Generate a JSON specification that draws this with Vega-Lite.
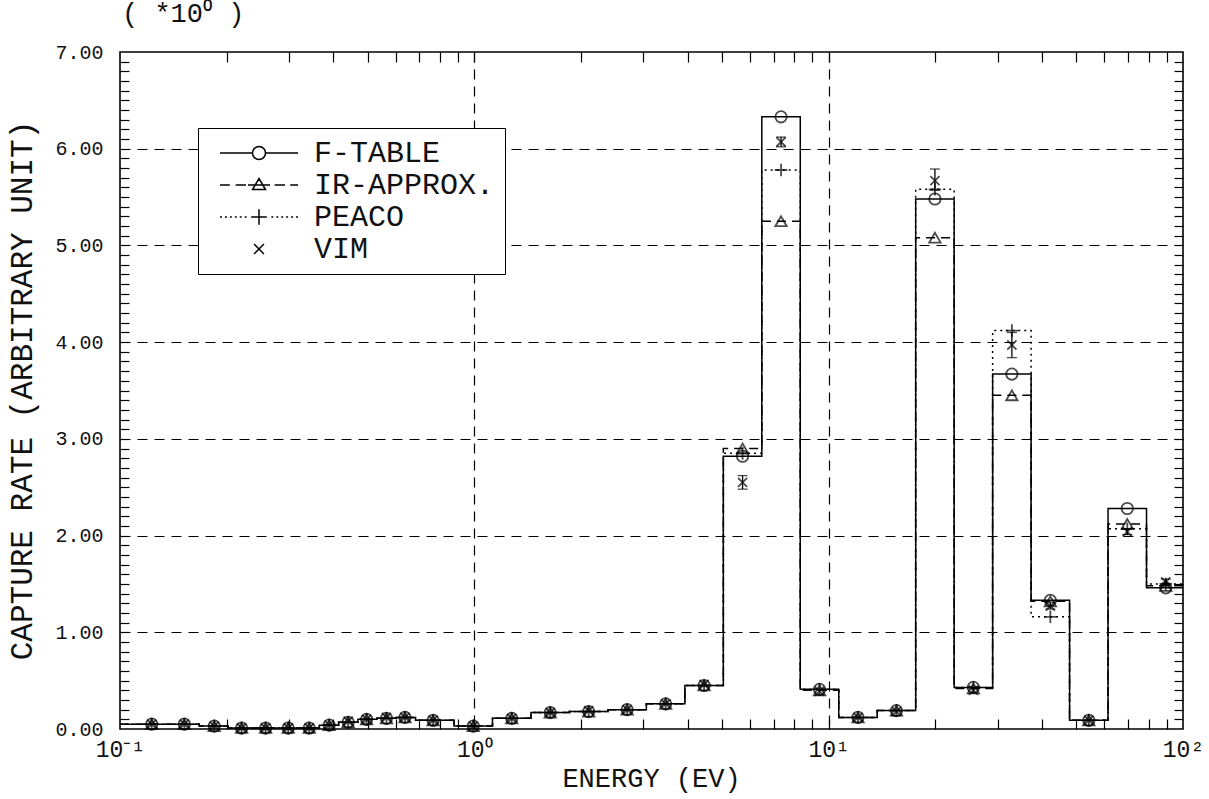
{
  "$schema": "https://vega.github.io/schema/vega-lite/v6.json",
  "width": 1063,
  "height": 677,
  "autosize": {"type": "none"},
  "padding": {"left": 120, "top": 52, "right": 26, "bottom": 70},
  "background": "white",
  "title": {
    "text": "( *10⁰ )",
    "anchor": "start",
    "frame": "group",
    "font": "Liberation Mono",
    "fontSize": 27,
    "fontWeight": "normal",
    "color": "#111",
    "offset": 14,
    "dx": 2
  },
  "config": {
    "view": {"stroke": "black", "strokeWidth": 1.6},
    "axis": {
      "labelFont": "Liberation Mono",
      "titleFont": "Liberation Mono",
      "labelColor": "#111",
      "titleColor": "#111",
      "titleFontWeight": "normal",
      "tickColor": "black",
      "tickWidth": 1.2,
      "labelFlush": false,
      "labelOverlap": false,
      "gridColor": "black",
      "gridDash": [10, 7],
      "gridWidth": 1.2
    }
  },
  "datasets": {
    "bins": [
      {"bin": 1, "lo": 0.1, "hi": 0.1366, "mid": 0.1229},
      {"bin": 2, "lo": 0.1366, "hi": 0.1674, "mid": 0.1519},
      {"bin": 3, "lo": 0.1674, "hi": 0.2017, "mid": 0.1845},
      {"bin": 4, "lo": 0.2017, "hi": 0.2383, "mid": 0.2204},
      {"bin": 5, "lo": 0.2383, "hi": 0.28, "mid": 0.2576},
      {"bin": 6, "lo": 0.28, "hi": 0.3224, "mid": 0.2984},
      {"bin": 7, "lo": 0.3224, "hi": 0.3653, "mid": 0.342},
      {"bin": 8, "lo": 0.3653, "hi": 0.414, "mid": 0.3894},
      {"bin": 9, "lo": 0.414, "hi": 0.4691, "mid": 0.4406},
      {"bin": 10, "lo": 0.4691, "hi": 0.5316, "mid": 0.4966},
      {"bin": 11, "lo": 0.5316, "hi": 0.6024, "mid": 0.565},
      {"bin": 12, "lo": 0.6024, "hi": 0.6826, "mid": 0.637},
      {"bin": 13, "lo": 0.6826, "hi": 0.8764, "mid": 0.765},
      {"bin": 14, "lo": 0.8764, "hi": 1.1254, "mid": 0.993},
      {"bin": 15, "lo": 1.1254, "hi": 1.445, "mid": 1.2752},
      {"bin": 16, "lo": 1.445, "hi": 1.8554, "mid": 1.6374},
      {"bin": 17, "lo": 1.8554, "hi": 2.3824, "mid": 2.1025},
      {"bin": 18, "lo": 2.3824, "hi": 3.059, "mid": 2.6996},
      {"bin": 19, "lo": 3.059, "hi": 3.9279, "mid": 3.4663},
      {"bin": 20, "lo": 3.9279, "hi": 5.0435, "mid": 4.4509},
      {"bin": 21, "lo": 5.0435, "hi": 6.476, "mid": 5.715},
      {"bin": 22, "lo": 6.476, "hi": 8.3153, "mid": 7.3383},
      {"bin": 23, "lo": 8.3153, "hi": 10.677, "mid": 9.4225},
      {"bin": 24, "lo": 10.677, "hi": 13.71, "mid": 12.099},
      {"bin": 25, "lo": 13.71, "hi": 17.603, "mid": 15.535},
      {"bin": 26, "lo": 17.603, "hi": 22.603, "mid": 19.947},
      {"bin": 27, "lo": 22.603, "hi": 29.023, "mid": 25.613},
      {"bin": 28, "lo": 29.023, "hi": 37.266, "mid": 32.887},
      {"bin": 29, "lo": 37.266, "hi": 47.851, "mid": 42.228},
      {"bin": 30, "lo": 47.851, "hi": 61.442, "mid": 54.222},
      {"bin": 31, "lo": 61.442, "hi": 78.893, "mid": 69.622},
      {"bin": 32, "lo": 78.893, "hi": 100, "mid": 89.4}
    ],
    "rates": [
      {"series": "F-TABLE", "bin": 1, "rate": 0.05},
      {"series": "F-TABLE", "bin": 2, "rate": 0.05},
      {"series": "F-TABLE", "bin": 3, "rate": 0.03},
      {"series": "F-TABLE", "bin": 4, "rate": 0.01},
      {"series": "F-TABLE", "bin": 5, "rate": 0.01},
      {"series": "F-TABLE", "bin": 6, "rate": 0.01},
      {"series": "F-TABLE", "bin": 7, "rate": 0.01},
      {"series": "F-TABLE", "bin": 8, "rate": 0.04},
      {"series": "F-TABLE", "bin": 9, "rate": 0.07},
      {"series": "F-TABLE", "bin": 10, "rate": 0.1},
      {"series": "F-TABLE", "bin": 11, "rate": 0.11},
      {"series": "F-TABLE", "bin": 12, "rate": 0.12},
      {"series": "F-TABLE", "bin": 13, "rate": 0.09},
      {"series": "F-TABLE", "bin": 14, "rate": 0.03},
      {"series": "F-TABLE", "bin": 15, "rate": 0.11},
      {"series": "F-TABLE", "bin": 16, "rate": 0.17},
      {"series": "F-TABLE", "bin": 17, "rate": 0.18},
      {"series": "F-TABLE", "bin": 18, "rate": 0.2},
      {"series": "F-TABLE", "bin": 19, "rate": 0.26},
      {"series": "F-TABLE", "bin": 20, "rate": 0.45},
      {"series": "F-TABLE", "bin": 21, "rate": 2.82},
      {"series": "F-TABLE", "bin": 22, "rate": 6.33},
      {"series": "F-TABLE", "bin": 23, "rate": 0.41},
      {"series": "F-TABLE", "bin": 24, "rate": 0.12},
      {"series": "F-TABLE", "bin": 25, "rate": 0.19},
      {"series": "F-TABLE", "bin": 26, "rate": 5.48},
      {"series": "F-TABLE", "bin": 27, "rate": 0.43},
      {"series": "F-TABLE", "bin": 28, "rate": 3.67},
      {"series": "F-TABLE", "bin": 29, "rate": 1.33},
      {"series": "F-TABLE", "bin": 30, "rate": 0.09},
      {"series": "F-TABLE", "bin": 31, "rate": 2.28},
      {"series": "F-TABLE", "bin": 32, "rate": 1.46},
      {"series": "IR-APPROX.", "bin": 1, "rate": 0.05},
      {"series": "IR-APPROX.", "bin": 2, "rate": 0.05},
      {"series": "IR-APPROX.", "bin": 3, "rate": 0.03},
      {"series": "IR-APPROX.", "bin": 4, "rate": 0.01},
      {"series": "IR-APPROX.", "bin": 5, "rate": 0.01},
      {"series": "IR-APPROX.", "bin": 6, "rate": 0.01},
      {"series": "IR-APPROX.", "bin": 7, "rate": 0.01},
      {"series": "IR-APPROX.", "bin": 8, "rate": 0.04},
      {"series": "IR-APPROX.", "bin": 9, "rate": 0.07},
      {"series": "IR-APPROX.", "bin": 10, "rate": 0.1},
      {"series": "IR-APPROX.", "bin": 11, "rate": 0.11},
      {"series": "IR-APPROX.", "bin": 12, "rate": 0.12},
      {"series": "IR-APPROX.", "bin": 13, "rate": 0.09},
      {"series": "IR-APPROX.", "bin": 14, "rate": 0.03},
      {"series": "IR-APPROX.", "bin": 15, "rate": 0.11},
      {"series": "IR-APPROX.", "bin": 16, "rate": 0.17},
      {"series": "IR-APPROX.", "bin": 17, "rate": 0.18},
      {"series": "IR-APPROX.", "bin": 18, "rate": 0.2},
      {"series": "IR-APPROX.", "bin": 19, "rate": 0.26},
      {"series": "IR-APPROX.", "bin": 20, "rate": 0.45},
      {"series": "IR-APPROX.", "bin": 21, "rate": 2.9},
      {"series": "IR-APPROX.", "bin": 22, "rate": 5.25},
      {"series": "IR-APPROX.", "bin": 23, "rate": 0.4},
      {"series": "IR-APPROX.", "bin": 24, "rate": 0.12},
      {"series": "IR-APPROX.", "bin": 25, "rate": 0.19},
      {"series": "IR-APPROX.", "bin": 26, "rate": 5.08},
      {"series": "IR-APPROX.", "bin": 27, "rate": 0.42},
      {"series": "IR-APPROX.", "bin": 28, "rate": 3.45},
      {"series": "IR-APPROX.", "bin": 29, "rate": 1.32},
      {"series": "IR-APPROX.", "bin": 30, "rate": 0.09},
      {"series": "IR-APPROX.", "bin": 31, "rate": 2.12},
      {"series": "IR-APPROX.", "bin": 32, "rate": 1.48},
      {"series": "PEACO", "bin": 1, "rate": 0.05},
      {"series": "PEACO", "bin": 2, "rate": 0.05},
      {"series": "PEACO", "bin": 3, "rate": 0.03},
      {"series": "PEACO", "bin": 4, "rate": 0.01},
      {"series": "PEACO", "bin": 5, "rate": 0.01},
      {"series": "PEACO", "bin": 6, "rate": 0.01},
      {"series": "PEACO", "bin": 7, "rate": 0.01},
      {"series": "PEACO", "bin": 8, "rate": 0.04},
      {"series": "PEACO", "bin": 9, "rate": 0.07},
      {"series": "PEACO", "bin": 10, "rate": 0.1},
      {"series": "PEACO", "bin": 11, "rate": 0.11},
      {"series": "PEACO", "bin": 12, "rate": 0.12},
      {"series": "PEACO", "bin": 13, "rate": 0.09},
      {"series": "PEACO", "bin": 14, "rate": 0.03},
      {"series": "PEACO", "bin": 15, "rate": 0.11},
      {"series": "PEACO", "bin": 16, "rate": 0.17},
      {"series": "PEACO", "bin": 17, "rate": 0.18},
      {"series": "PEACO", "bin": 18, "rate": 0.2},
      {"series": "PEACO", "bin": 19, "rate": 0.26},
      {"series": "PEACO", "bin": 20, "rate": 0.45},
      {"series": "PEACO", "bin": 21, "rate": 2.85},
      {"series": "PEACO", "bin": 22, "rate": 5.78},
      {"series": "PEACO", "bin": 23, "rate": 0.41},
      {"series": "PEACO", "bin": 24, "rate": 0.12},
      {"series": "PEACO", "bin": 25, "rate": 0.19},
      {"series": "PEACO", "bin": 26, "rate": 5.58},
      {"series": "PEACO", "bin": 27, "rate": 0.43},
      {"series": "PEACO", "bin": 28, "rate": 4.12},
      {"series": "PEACO", "bin": 29, "rate": 1.16},
      {"series": "PEACO", "bin": 30, "rate": 0.09},
      {"series": "PEACO", "bin": 31, "rate": 2.07},
      {"series": "PEACO", "bin": 32, "rate": 1.5},
      {"series": "VIM", "bin": 1, "rate": 0.05},
      {"series": "VIM", "bin": 2, "rate": 0.05},
      {"series": "VIM", "bin": 3, "rate": 0.03},
      {"series": "VIM", "bin": 4, "rate": 0.01},
      {"series": "VIM", "bin": 5, "rate": 0.01},
      {"series": "VIM", "bin": 6, "rate": 0.01},
      {"series": "VIM", "bin": 7, "rate": 0.01},
      {"series": "VIM", "bin": 8, "rate": 0.04},
      {"series": "VIM", "bin": 9, "rate": 0.08},
      {"series": "VIM", "bin": 10, "rate": 0.1},
      {"series": "VIM", "bin": 11, "rate": 0.12},
      {"series": "VIM", "bin": 12, "rate": 0.12},
      {"series": "VIM", "bin": 13, "rate": 0.09},
      {"series": "VIM", "bin": 14, "rate": 0.03},
      {"series": "VIM", "bin": 15, "rate": 0.11},
      {"series": "VIM", "bin": 16, "rate": 0.17},
      {"series": "VIM", "bin": 17, "rate": 0.19},
      {"series": "VIM", "bin": 18, "rate": 0.2},
      {"series": "VIM", "bin": 19, "rate": 0.26},
      {"series": "VIM", "bin": 20, "rate": 0.46},
      {"series": "VIM", "bin": 21, "rate": 2.55, "elo": 2.48, "ehi": 2.62},
      {"series": "VIM", "bin": 22, "rate": 6.07, "elo": 6.02, "ehi": 6.12},
      {"series": "VIM", "bin": 23, "rate": 0.39},
      {"series": "VIM", "bin": 24, "rate": 0.12},
      {"series": "VIM", "bin": 25, "rate": 0.18},
      {"series": "VIM", "bin": 26, "rate": 5.67, "elo": 5.57, "ehi": 5.79},
      {"series": "VIM", "bin": 27, "rate": 0.4},
      {"series": "VIM", "bin": 28, "rate": 3.97, "elo": 3.84, "ehi": 4.1},
      {"series": "VIM", "bin": 29, "rate": 1.27, "elo": 1.24, "ehi": 1.31},
      {"series": "VIM", "bin": 30, "rate": 0.09},
      {"series": "VIM", "bin": 31, "rate": 2.04, "elo": 2.01, "ehi": 2.07},
      {"series": "VIM", "bin": 32, "rate": 1.52, "elo": 1.49, "ehi": 1.55}
    ]
  },
  "data": {"name": "rates"},
  "transform": [
    {"lookup": "bin", "from": {"data": {"name": "bins"}, "key": "bin", "fields": ["lo", "hi", "mid"]}}
  ],
  "layer": [
    {
      "transform": [
        {"filter": "datum.series !== 'VIM'"},
        {"fold": ["lo", "hi"], "as": ["edge", "E"]}
      ],
      "mark": {"type": "line", "color": "black", "strokeWidth": 1.5, "strokeCap": "butt"},
      "encoding": {
        "x": {
          "field": "E", "type": "quantitative",
          "scale": {"type": "log", "domain": [0.1, 100], "nice": false},
          "axis": {
            "orient": "bottom", "values": [0.1, 1, 10, 100],
            "labelExpr": "datum.value < 0.5 ? '10⁻¹' : datum.value < 5 ? '10⁰' : datum.value < 50 ? '10¹' : '10²'",
            "ticks": false, "domain": false, "grid": false,
            "labelPadding": 9, "labelFontSize": 23,
            "title": "ENERGY  (EV)", "titleFontSize": 27,
            "titleX": 531, "titleY": 49, "titleBaseline": "middle"
          }
        },
        "y": {
          "field": "rate", "type": "quantitative",
          "scale": {"domain": [0, 7], "nice": false, "zero": false},
          "axis": {
            "orient": "left", "values": [0, 1, 2, 3, 4, 5, 6, 7], "format": ".2f",
            "ticks": false, "domain": false, "grid": false,
            "labelPadding": 17, "labelFontSize": 20, "labelBaseline": "middle",
            "title": "CAPTURE RATE (ARBITRARY UNIT)", "titleFontSize": 31,
            "titleX": -98, "titleY": 338, "titleAngle": -90,
            "titleAlign": "center", "titleBaseline": "middle"
          }
        },
        "strokeDash": {
          "field": "series", "type": "nominal",
          "scale": {"domain": ["F-TABLE", "IR-APPROX.", "PEACO"], "range": [[1, 0], [9, 6], [2, 4]]},
          "legend": null
        },
        "order": [{"field": "bin"}, {"field": "E"}]
      }
    },
    {
      "mark": {"type": "point", "filled": false, "size": 130, "strokeWidth": 1.8, "color": "black"},
      "encoding": {
        "x": {
          "field": "mid", "type": "quantitative",
          "scale": {"type": "log", "domain": [0.1, 100], "nice": false},
          "axis": {
            "orient": "top", "offset": -10, "tickSize": 10, "ticks": true,
            "values": [0.2, 0.3, 0.4, 0.5, 0.6, 0.7, 0.8, 0.9, 1, 2, 3, 4, 5, 6, 7, 8, 9, 10, 20, 30, 40, 50, 60, 70, 80, 90],
            "labels": true, "labelOpacity": 0, "labelFontSize": 2,
            "domain": true, "domainOpacity": 0, "grid": false, "title": null
          }
        },
        "y": {
          "field": "rate", "type": "quantitative",
          "scale": {"domain": [0, 7], "nice": false, "zero": false},
          "axis": {
            "orient": "right", "offset": -9, "tickSize": 9, "ticks": true,
            "values": [0.1, 0.2, 0.3, 0.4, 0.5, 0.6, 0.7, 0.8, 0.9, 1, 1.1, 1.2, 1.3, 1.4, 1.5, 1.6, 1.7, 1.8, 1.9, 2, 2.1, 2.2, 2.3, 2.4, 2.5, 2.6, 2.7, 2.8, 2.9, 3, 3.1, 3.2, 3.3, 3.4, 3.5, 3.6, 3.7, 3.8, 3.9, 4, 4.1, 4.2, 4.3, 4.4, 4.5, 4.6, 4.7, 4.8, 4.9, 5, 5.1, 5.2, 5.3, 5.4, 5.5, 5.6, 5.7, 5.8, 5.9, 6, 6.1, 6.2, 6.3, 6.4, 6.5, 6.6, 6.7, 6.8, 6.9],
            "labels": true, "labelOpacity": 0, "labelFontSize": 2,
            "domain": true, "domainOpacity": 0, "grid": false, "title": null
          }
        },
        "shape": {
          "field": "series", "type": "nominal",
          "scale": {
            "domain": ["F-TABLE", "IR-APPROX.", "PEACO", "VIM"],
            "range": ["circle", "triangle-up", "M-1.1,0L1.1,0M0,-1.1L0,1.1", "M-0.8,-0.8L0.8,0.8M0.8,-0.8L-0.8,0.8"]
          },
          "legend": null
        }
      }
    },
    {
      "transform": [{"filter": "datum.series === 'VIM' && isValid(datum.elo)"}],
      "mark": {"type": "rule", "color": "black", "strokeWidth": 1.3},
      "encoding": {
        "x": {
          "field": "mid", "type": "quantitative",
          "scale": {"type": "log", "domain": [0.1, 100], "nice": false},
          "axis": {
            "orient": "bottom", "offset": -10, "tickSize": 10, "ticks": true,
            "values": [0.2, 0.3, 0.4, 0.5, 0.6, 0.7, 0.8, 0.9, 1, 2, 3, 4, 5, 6, 7, 8, 9, 10, 20, 30, 40, 50, 60, 70, 80, 90],
            "labels": true, "labelOpacity": 0, "labelFontSize": 2,
            "domain": true, "domainOpacity": 0, "grid": false, "title": null
          }
        },
        "y": {
          "field": "elo", "type": "quantitative",
          "scale": {"domain": [0, 7], "nice": false, "zero": false},
          "axis": {
            "orient": "left", "offset": -9, "tickSize": 9, "ticks": true,
            "values": [0.1, 0.2, 0.3, 0.4, 0.5, 0.6, 0.7, 0.8, 0.9, 1, 1.1, 1.2, 1.3, 1.4, 1.5, 1.6, 1.7, 1.8, 1.9, 2, 2.1, 2.2, 2.3, 2.4, 2.5, 2.6, 2.7, 2.8, 2.9, 3, 3.1, 3.2, 3.3, 3.4, 3.5, 3.6, 3.7, 3.8, 3.9, 4, 4.1, 4.2, 4.3, 4.4, 4.5, 4.6, 4.7, 4.8, 4.9, 5, 5.1, 5.2, 5.3, 5.4, 5.5, 5.6, 5.7, 5.8, 5.9, 6, 6.1, 6.2, 6.3, 6.4, 6.5, 6.6, 6.7, 6.8, 6.9],
            "labels": true, "labelOpacity": 0, "labelFontSize": 2,
            "domain": true, "domainOpacity": 0, "grid": false, "title": null
          }
        },
        "y2": {"field": "ehi"}
      }
    },
    {
      "transform": [
        {"filter": "datum.series === 'VIM' && isValid(datum.elo)"},
        {"fold": ["elo", "ehi"], "as": ["cap", "ev"]}
      ],
      "mark": {"type": "tick", "orient": "horizontal", "size": 10, "thickness": 1.3, "color": "black"},
      "encoding": {
        "x": {
          "field": "mid", "type": "quantitative",
          "scale": {"type": "log", "domain": [0.1, 100], "nice": false},
          "axis": {
            "orient": "bottom", "values": [1, 10], "grid": true,
            "ticks": false, "labels": false, "domain": false, "title": null
          }
        },
        "y": {
          "field": "ev", "type": "quantitative",
          "scale": {"domain": [0, 7], "nice": false, "zero": false},
          "axis": {
            "orient": "left", "values": [1, 2, 3, 4, 5, 6], "grid": true,
            "ticks": false, "labels": false, "domain": false, "title": null
          }
        }
      }
    },
    {
      "transform": [{"filter": "datum.bin === 1"}],
      "mark": {"type": "point", "opacity": 0},
      "encoding": {
        "x": {
          "field": "mid", "type": "quantitative",
          "scale": {"type": "log", "domain": [0.1, 100], "nice": false},
          "axis": null
        },
        "y": {
          "field": "rate", "type": "quantitative",
          "scale": {"domain": [0, 7], "nice": false, "zero": false},
          "axis": null
        },
        "shape": {
          "field": "series", "type": "nominal",
          "scale": {
            "domain": ["F-TABLE", "IR-APPROX.", "PEACO", "VIM"],
            "range": [
              "M-3,0L-0.5,0M0.5,0L3,0M-0.5,0A0.5,0.5,0,1,1,0.5,0A0.5,0.5,0,1,1,-0.5,0",
              "M-3,0L-2.25,0M-1.8,0L-1,0M-0.85,0L0.85,0M1.2,0L2,0M2.4,0L3,0M-0.5,0.35L0,-0.5L0.5,0.35Z",
              "M-3,0L-2.85,0M-2.62,0L-2.47,0M-2.24,0L-2.09,0M-1.86,0L-1.71,0M-1.48,0L-1.33,0M-1.1,0L-0.95,0M0.95,0L1.1,0M1.33,0L1.48,0M1.71,0L1.86,0M2.09,0L2.24,0M2.47,0L2.62,0M2.85,0L3,0M-0.6,0L0.6,0M0,-0.6L0,0.6",
              "M-0.38,-0.38L0.38,0.38M0.38,-0.38L-0.38,0.38"
            ]
          },
          "legend": {
            "title": null,
            "orient": "none",
            "legendX": 78,
            "legendY": 76,
            "direction": "vertical",
            "strokeColor": "black",
            "fillColor": "white",
            "padding": 10,
            "symbolSize": 676,
            "symbolStrokeWidth": 1.5,
            "symbolStrokeColor": "black",
            "symbolFillColor": "transparent",
            "symbolOpacity": 1,
            "symbolOffset": 36,
            "labelOffset": 40,
            "labelFont": "Liberation Mono",
            "labelFontSize": 30,
            "labelColor": "#111",
            "labelLimit": 400,
            "rowPadding": 2
          }
        }
      }
    }
  ],
  "resolve": {
    "scale": {"x": "independent", "y": "independent", "shape": "independent"},
    "axis": {"x": "independent", "y": "independent"}
  }
}
